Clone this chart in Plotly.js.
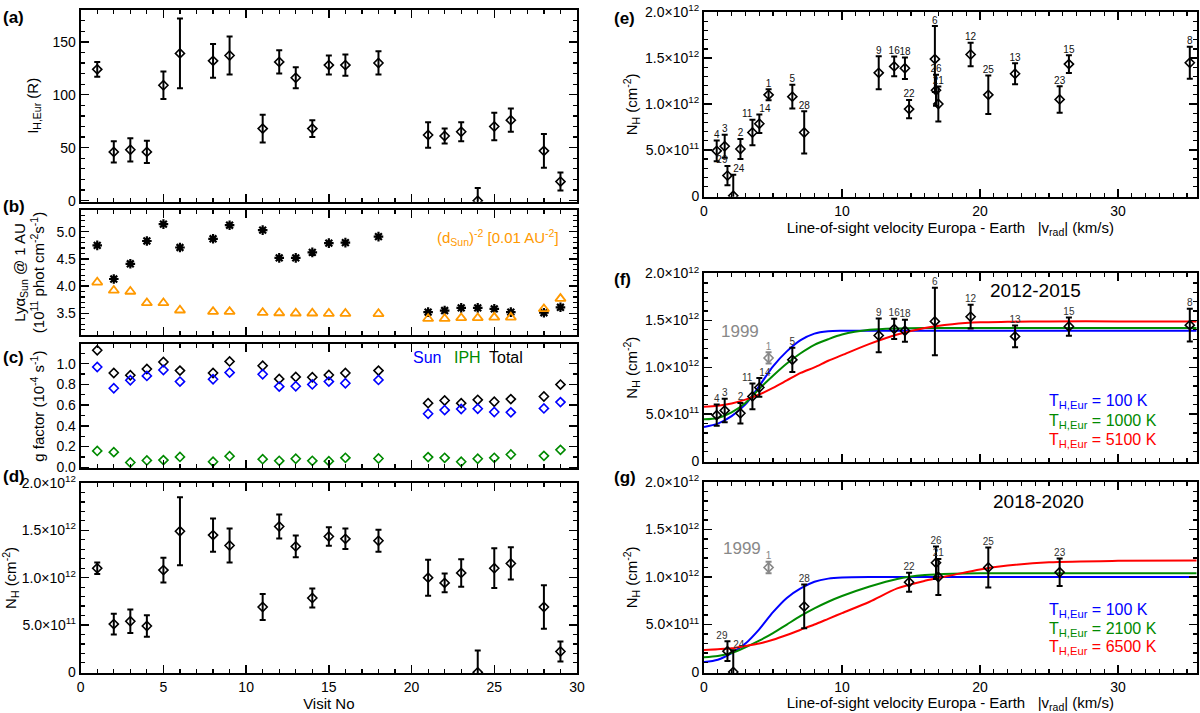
<!DOCTYPE html>
<html><head><meta charset="utf-8">
<script src="https://cdn.plot.ly/plotly-3.0.1.min.js"></script>
<style>body{margin:0;background:#fff;} #chart{width:1200px;height:713px;}</style>
</head><body><div id="chart"></div>
<script>
// ---------- data ----------
const visits = [1,2,3,4,5,6,8,9,11,12,13,14,15,16,18,21,22,23,24,25,26,28,29];
const IH     = [124,46,48,46,109,139,132,137,68,131,116,68,128,128,130,62,61,65,0,70,76,47,18];
const IH_err = [7,10,11,10.5,13,33,16,18,13,11,10,8,9,10,11,12,7,9,12,13,11,16,8.5];
const lyaSun = [4.75,4.13,4.41,4.83,5.14,4.71,4.87,5.12,5.03,4.52,4.52,4.62,4.79,4.80,4.91,3.52,3.55,3.60,3.60,3.58,3.52,3.51,3.61];
const dSunInv2 = [4.07,3.92,3.90,3.69,3.69,3.555,3.53,3.53,3.51,3.505,3.50,3.50,3.495,3.495,3.49,3.40,3.40,3.415,3.415,3.425,3.425,3.58,3.77];
const gTotal = [1.13,0.91,0.888,0.949,1.016,0.933,0.91,1.022,0.98,0.853,0.872,0.869,0.891,0.91,0.933,0.619,0.645,0.619,0.651,0.632,0.658,0.683,0.798];
const gSun   = [0.968,0.763,0.84,0.882,0.939,0.827,0.85,0.914,0.898,0.779,0.782,0.80,0.827,0.811,0.843,0.517,0.552,0.562,0.565,0.533,0.530,0.568,0.629];
const gIPH   = [0.158,0.146,0.046,0.066,0.069,0.10,0.053,0.107,0.078,0.062,0.082,0.062,0.059,0.091,0.085,0.098,0.091,0.053,0.082,0.091,0.123,0.11,0.168];
// N_H in units of 1e12 cm^-2
const NH     = [1.10,0.51,0.54,0.49,1.08,1.49,1.45,1.34,0.69,1.54,1.33,0.785,1.435,1.41,1.39,1.00,0.945,1.05,0.0,1.10,1.15,0.69,0.22];
const NH_err = [0.06,0.11,0.125,0.113,0.13,0.36,0.175,0.18,0.138,0.127,0.115,0.10,0.097,0.108,0.117,0.19,0.10,0.145,0.23,0.21,0.17,0.23,0.105];
const vRad   = [4.68,2.64,1.50,0.92,6.40,16.73,35.2,12.66,3.51,19.32,22.54,4.01,26.44,13.78,14.56,16.98,14.86,25.77,2.12,20.60,16.81,7.26,1.70];
// label placement next to each point (to keep neighbouring labels apart)
const labelPos = ['top center','top center','top center','top center','top center','top center','top center','top center','top left','top center','top center','top right','top center','top center','top center','top center','top center','top center','top right','top center','top center','top center','top left'];

const visits1999 = [1];
const visits2012_2015 = [2,3,4,5,6,8,9,11,12,13,14,15,16,18];
const visits2018_2020 = [21,22,23,24,25,26,28,29];

// model curves, N_H in 1e12
const vModel   = [0,1,2,3,4,5,6,7,8,9,10,12,14,16,18,20,22,25,30,35.7];
const f_100K   = [0.364,0.40,0.48,0.605,0.80,1.01,1.17,1.29,1.36,1.385,1.39,1.39,1.39,1.39,1.39,1.39,1.39,1.39,1.39,1.39];
const f_1000K  = [0.445,0.46,0.52,0.62,0.77,0.91,1.04,1.15,1.24,1.30,1.35,1.40,1.415,1.42,1.42,1.42,1.42,1.42,1.42,1.42];
const f_5100K  = [0.58,0.59,0.615,0.655,0.71,0.78,0.86,0.94,1.00,1.07,1.13,1.25,1.35,1.42,1.46,1.48,1.485,1.49,1.49,1.49];
const g_100K   = [0.105,0.13,0.20,0.30,0.45,0.63,0.78,0.88,0.95,0.983,0.995,1.0,1.0,1.0,1.0,1.0,1.0,1.0,1.0,1.0];
const g_2100K  = [0.157,0.17,0.20,0.26,0.33,0.41,0.50,0.59,0.67,0.74,0.80,0.90,0.98,1.02,1.035,1.04,1.04,1.04,1.04,1.04];
const g_6500K  = [0.233,0.24,0.25,0.275,0.30,0.34,0.39,0.445,0.50,0.56,0.62,0.74,0.88,0.96,1.02,1.08,1.12,1.155,1.17,1.175];

const nhTickVals = [0,0.5,1.0,1.5,2.0];
const nhTickText = ['0','5.0×10<sup>11</sup>','1.0×10<sup>12</sup>','1.5×10<sup>12</sup>','2.0×10<sup>12</sup>'];

// ---------- helpers ----------
const W = 1200, H = 713;
const FONT = 'Liberation Sans, Arial, Helvetica, sans-serif';
const px2x = p => p / W;
const px2y = p => 1 - p / H;
const BLUE = '#0000ff', GREEN = '#008a00', RED = '#ff0000', ORANGE = '#ff9900', GREY = '#888888';

function sub(list) {
  const idx = list.map(v => visits.indexOf(v));
  return {
    x: idx.map(i => vRad[i]), y: idx.map(i => NH[i]), e: idx.map(i => NH_err[i]),
    top: idx.map(i => NH[i] + NH_err[i]), lab: idx.map(i => String(visits[i])), pos: idx.map(i => labelPos[i])
  };
}
function errPts(x, y, e, xa, ya, color) {
  return {x, y, mode: 'markers', type: 'scatter', xaxis: xa, yaxis: ya, showlegend: false,
    error_y: {type: 'data', array: e, color: color, thickness: 2, width: 3},
    marker: {symbol: 'diamond-open', size: 7, color: color, line: {width: 1.6, color: color}}};
}
function labels(x, y, t, pos, xa, ya, color) {
  return {x, y, text: t, mode: 'text', type: 'scatter', xaxis: xa, yaxis: ya, showlegend: false,
    textposition: pos, textfont: {size: 10, color: color, family: FONT}, cliponaxis: false};
}
function curve(y, color, xa, ya) {
  return {x: vModel, y, mode: 'lines', type: 'scatter', xaxis: xa, yaxis: ya, showlegend: false,
    line: {color, width: 2, shape: 'spline', smoothing: 0.8}};
}

const traces = [];
// (a)
traces.push(errPts(visits, IH, IH_err, 'x', 'y', 'black'));
// (b)
traces.push({x: visits, y: lyaSun, mode: 'markers', type: 'scatter', xaxis: 'x2', yaxis: 'y2', showlegend: false,
  marker: {symbol: 'asterisk-open', size: 8, color: 'black', line: {width: 2.2, color: 'black'}}});
traces.push({x: visits, y: dSunInv2, mode: 'markers', type: 'scatter', xaxis: 'x2', yaxis: 'y2', showlegend: false,
  marker: {symbol: 'triangle-up-open', size: 9, color: ORANGE, line: {width: 1.8, color: ORANGE}}});
// (c)
const diam = c => ({symbol: 'diamond-open', size: 7, color: c, line: {width: 1.6, color: c}});
traces.push({x: visits, y: gTotal, mode: 'markers', type: 'scatter', xaxis: 'x3', yaxis: 'y3', showlegend: false, marker: diam('black')});
traces.push({x: visits, y: gSun, mode: 'markers', type: 'scatter', xaxis: 'x3', yaxis: 'y3', showlegend: false, marker: diam(BLUE)});
traces.push({x: visits, y: gIPH, mode: 'markers', type: 'scatter', xaxis: 'x3', yaxis: 'y3', showlegend: false, marker: diam(GREEN)});
// (d)
traces.push(errPts(visits, NH, NH_err, 'x4', 'y4', 'black'));
// (e)
traces.push(errPts(vRad, NH, NH_err, 'x5', 'y5', 'black'));
traces.push(labels(vRad, NH.map((v, i) => v + NH_err[i]), visits.map(String), labelPos, 'x5', 'y5', '#111'));
// (f)
const s99 = sub(visits1999), s12 = sub(visits2012_2015), s18 = sub(visits2018_2020);
traces.push(curve(f_100K, BLUE, 'x6', 'y6'));
traces.push(curve(f_1000K, GREEN, 'x6', 'y6'));
traces.push(curve(f_5100K, RED, 'x6', 'y6'));
traces.push(errPts(s99.x, s99.y, s99.e, 'x6', 'y6', GREY));
traces.push(labels(s99.x, s99.top, s99.lab, s99.pos, 'x6', 'y6', GREY));
traces.push(errPts(s12.x, s12.y, s12.e, 'x6', 'y6', 'black'));
traces.push(labels(s12.x, s12.top, s12.lab, s12.pos, 'x6', 'y6', '#333'));
// (g)
traces.push(curve(g_100K, BLUE, 'x7', 'y7'));
traces.push(curve(g_2100K, GREEN, 'x7', 'y7'));
traces.push(curve(g_6500K, RED, 'x7', 'y7'));
traces.push(errPts(s99.x, s99.y, s99.e, 'x7', 'y7', GREY));
traces.push(labels(s99.x, s99.top, s99.lab, s99.pos, 'x7', 'y7', GREY));
traces.push(errPts(s18.x, s18.y, s18.e, 'x7', 'y7', 'black'));
traces.push(labels(s18.x, s18.top, s18.lab, s18.pos, 'x7', 'y7', '#333'));

// ---------- axes ----------
function axis(o) {
  return Object.assign({
    showline: true, linecolor: 'black', linewidth: 2, mirror: 'allticks',
    ticks: 'inside', ticklen: 8, tickwidth: 1.5, tickcolor: 'black',
    zeroline: false, showgrid: false, automargin: false, ticklabeloverflow: 'allow',
    tickfont: {size: 14, color: 'black', family: FONT}
  }, o);
}
const minor = d => ({ticks: 'inside', ticklen: 4, tickwidth: 1.2, tickcolor: 'black', dtick: d, tick0: 0, showgrid: false});
const LX = [px2x(80.7), px2x(577)], RX = [px2x(704), px2x(1196.7)];
const titleFont = {size: 15, color: 'black', family: FONT};
const NHR = [-0.01, 2.003];

const layout = {
  width: W, height: H, margin: {l: 0, r: 0, t: 0, b: 0},
  paper_bgcolor: 'white', plot_bgcolor: 'white', showlegend: false,
  font: {family: FONT, color: 'black'},
  xaxis:  axis({domain: LX, anchor: 'y',  range: [0, 30], dtick: 5, tick0: 0, minor: minor(1), showticklabels: false}),
  xaxis2: axis({domain: LX, anchor: 'y2', range: [0, 30], dtick: 5, tick0: 0, minor: minor(1), showticklabels: false}),
  xaxis3: axis({domain: LX, anchor: 'y3', range: [0, 30], dtick: 5, tick0: 0, minor: minor(1), showticklabels: false}),
  xaxis4: axis({domain: LX, anchor: 'y4', range: [0, 30], dtick: 5, tick0: 0, minor: minor(1),
    title: {text: 'Visit No', font: titleFont, standoff: 4}}),
  xaxis5: axis({domain: RX, anchor: 'y5', range: [0, 35.7], dtick: 10, tick0: 0, minor: minor(1),
    title: {text: 'Line-of-sight velocity Europa - Earth   |v<sub>rad</sub>| (km/s)', font: titleFont, standoff: 4}}),
  xaxis6: axis({domain: RX, anchor: 'y6', range: [0, 35.7], dtick: 10, tick0: 0, minor: minor(1), showticklabels: false}),
  xaxis7: axis({domain: RX, anchor: 'y7', range: [0, 35.7], dtick: 10, tick0: 0, minor: minor(1),
    title: {text: 'Line-of-sight velocity Europa - Earth   |v<sub>rad</sub>| (km/s)', font: titleFont, standoff: 4}}),
  yaxis:  axis({domain: [px2y(201.7), px2y(10)], anchor: 'x', range: [-1, 180], tickvals: [0,50,100,150], minor: minor(10),
    title: {text: 'I<sub>H,Eur</sub> (R)', font: titleFont, standoff: 10}}),
  yaxis2: axis({domain: [px2y(335), px2y(210)], anchor: 'x2', range: [3.1, 5.4], tickvals: [3.5,4.0,4.5,5.0], tickformat: '.1f', minor: minor(0.1),
    title: {text: 'Lyα<sub>Sun</sub> @ 1 AU<br>(10<sup>11</sup> phot cm<sup>-2</sup>s<sup>-1</sup>)', font: titleFont, standoff: 8}}),
  yaxis3: axis({domain: [px2y(468.3), px2y(344)], anchor: 'x3', range: [-0.01, 1.19], tickvals: [0,0.2,0.4,0.6,0.8,1.0], tickformat: '.1f', minor: minor(0.1),
    title: {text: 'g factor (10<sup>-4</sup> s<sup>-1</sup>)', font: titleFont, standoff: 8}}),
  yaxis4: axis({domain: [px2y(673.3), px2y(482.7)], anchor: 'x4', range: NHR, tickvals: nhTickVals, ticktext: nhTickText, minor: minor(0.1),
    title: {text: 'N<sub>H</sub> (cm<sup>-2</sup>)', font: titleFont, standoff: 4}}),
  yaxis5: axis({domain: [px2y(196.7), px2y(12)], anchor: 'x5', range: NHR, tickvals: nhTickVals, ticktext: nhTickText, minor: minor(0.1),
    title: {text: 'N<sub>H</sub> (cm<sup>-2</sup>)', font: titleFont, standoff: 4}}),
  yaxis6: axis({domain: [px2y(462), px2y(273.3)], anchor: 'x6', range: NHR, tickvals: nhTickVals, ticktext: nhTickText, minor: minor(0.1),
    title: {text: 'N<sub>H</sub> (cm<sup>-2</sup>)', font: titleFont, standoff: 4}}),
  yaxis7: axis({domain: [px2y(673), px2y(481.7)], anchor: 'x7', range: NHR, tickvals: nhTickVals, ticktext: nhTickText, minor: minor(0.1),
    title: {text: 'N<sub>H</sub> (cm<sup>-2</sup>)', font: titleFont, standoff: 4}}),
  annotations: []
};

function note(text, x, y, opt) {
  layout.annotations.push(Object.assign({text, x: px2x(x), y: px2y(y), xref: 'paper', yref: 'paper',
    showarrow: false, xanchor: 'left', yanchor: 'middle', font: {size: 15, color: 'black', family: FONT}}, opt || {}));
}
const bold = {font: {size: 17, color: 'black', family: FONT}};
[['(a)', 1, 17], ['(b)', 1, 207], ['(c)', 1, 357], ['(d)', 1, 476], ['(e)', 612, 18], ['(f)', 612, 279], ['(g)', 612, 477]]
  .forEach(p => note('<b>' + p[0] + '</b>', p[1], p[2], bold));
note('(d<sub>Sun</sub>)<sup>-2</sup> [0.01 AU<sup>-2</sup>]', 561, 238, {xanchor: 'right', font: {size: 15, color: ORANGE, family: FONT}});
note('Sun', 427, 357, {xanchor: 'center', font: {size: 16, color: BLUE, family: FONT}});
note('IPH', 467, 357, {xanchor: 'center', font: {size: 16, color: GREEN, family: FONT}});
note('Total', 506, 357, {xanchor: 'center', font: {size: 16, color: 'black', family: FONT}});
note('2012-2015', 1035, 290, {xanchor: 'center', font: {size: 19, color: 'black', family: FONT}});
note('2018-2020', 1038, 501, {xanchor: 'center', font: {size: 19, color: 'black', family: FONT}});
note('1999', 740, 331, {xanchor: 'center', font: {size: 17, color: GREY, family: FONT}});
note('1999', 742, 548, {xanchor: 'center', font: {size: 17, color: GREY, family: FONT}});
const legF = [['100 K', BLUE, 401], ['1000 K', GREEN, 421], ['5100 K', RED, 440]];
const legG = [['100 K', BLUE, 610], ['2100 K', GREEN, 629], ['6500 K', RED, 647]];
legF.concat(legG).forEach(l => note('T<sub>H,Eur</sub> = ' + l[0], 1047, l[2], {font: {size: 16, color: l[1], family: FONT}}));

Plotly.newPlot('chart', traces, layout, {staticPlot: true, displayModeBar: false});
</script>
</body></html>
